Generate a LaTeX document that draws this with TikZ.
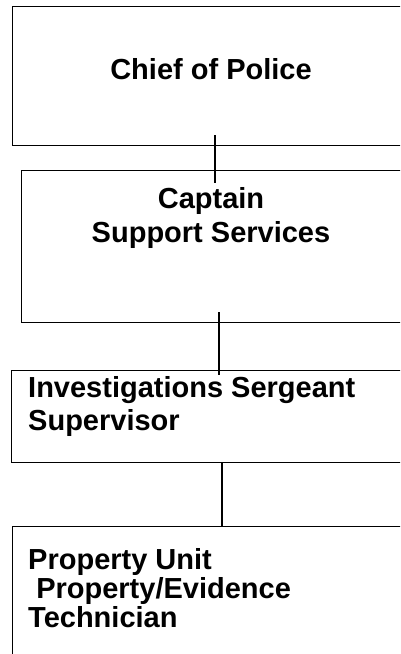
\documentclass[tikz,border=0pt]{standalone}
\usepackage{fontspec}
\setmainfont{Liberation Sans}
\begin{document}
\begin{tikzpicture}[x=1pt,y=-1pt,
  box/.style={draw=black,line width=1.3pt,rectangle,inner sep=0pt,anchor=north west},
  conn/.style={draw=black,line width=1.3pt},
  lbl/.style={inner sep=0pt,font=\fontsize{29}{34}\selectfont\bfseries},
  lblb/.style={inner sep=0pt,font=\fontsize{29}{29}\selectfont\bfseries}]
\useasboundingbox (0,0) rectangle (400,654);
\clip (0,0) rectangle (400,654);
\node[box,minimum width=420pt,minimum height=139pt] (b1) at (12,6) {};
\node[box,minimum width=420pt,minimum height=152pt] (b2) at (21,170) {};
\node[box,minimum width=420pt,minimum height=92pt] (b3) at (11,370) {};
\node[box,minimum width=420pt,minimum height=200pt] (b4) at (12,526) {};
\node[lbl,anchor=base] (t1) at (211,79) {Chief of Police};
\node[lbl,anchor=base,align=center] (t2) at (211,242) {Captain\\Support Services};
\node[lbl,anchor=base west,align=left] (t3) at (28,430) {Investigations Sergeant\\[-1pt]Supervisor};
\node[lblb,anchor=base west,align=left] (t4) at (28,627) {Property Unit\\\ Property/Evidence\\Technician};
\coordinate (c1a) at (215,135); \coordinate (c1b) at (215,183);
\coordinate (c2a) at (219,312); \coordinate (c2b) at (219,375);
\coordinate (c3a) at (222,462); \coordinate (c3b) at (222,526);
\draw[conn] (c1a) -- (c1b);
\draw[conn] (c2a) -- (c2b);
\draw[conn] (c3a) -- (c3b);
\end{tikzpicture}
\end{document}
